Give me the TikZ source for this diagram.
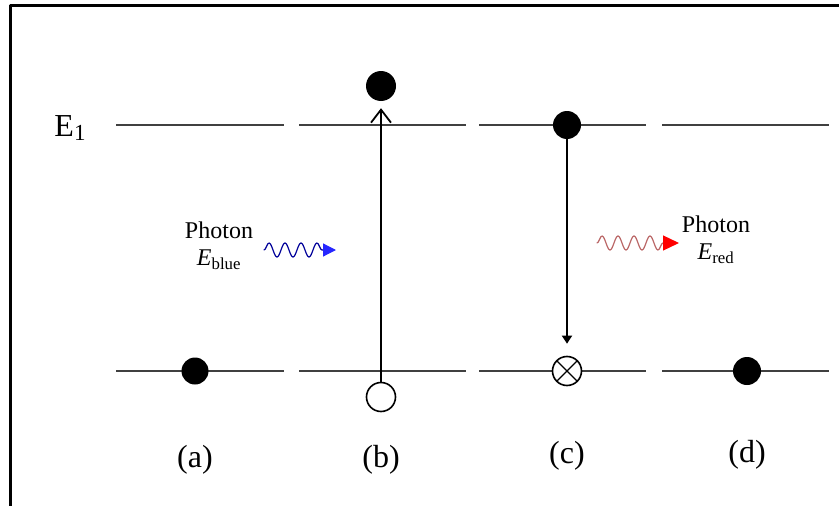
\documentclass[tikz,border=0pt]{standalone}
\usepackage{fontspec}
\setmainfont{Liberation Serif}
\usetikzlibrary{arrows.meta,decorations.pathmorphing,positioning}

\begin{document}
\begin{tikzpicture}[x=1pt,y=-1pt,line join=round,line cap=round,
	level/.style={line width=1.5pt,black!75,line cap=butt},
	electron/.style={circle,fill=black,minimum size=28pt,inner sep=0pt},
	hole/.style={circle,draw=black,line width=1.6pt,fill=white,minimum size=29pt,inner sep=0pt},
	crossed/.style={hole,path picture={
		\draw[line width=1.2pt] ([shift={(-10pt,-10pt)}]path picture bounding box.center) -- ([shift={(10pt,10pt)}]path picture bounding box.center);
		\draw[line width=1.2pt] ([shift={(-10pt,10pt)}]path picture bounding box.center) -- ([shift={(10pt,-10pt)}]path picture bounding box.center);}},
	case/.style={font=\fontsize{32}{34}\selectfont},
	photon/.style={align=center,font=\fontsize{24}{27}\selectfont,inner sep=0pt},
	wave/.style={decorate,decoration={snake,amplitude=7pt,segment length=16pt,post length=12pt},line width=1.2pt}]
	\useasboundingbox (0,0) rectangle (839,506);

	% Rahmen
	\draw[line width=3pt] (10,560) -- (10,5) -- (900,5);

	% Niveaus E1 und Grundzustand
	\foreach \xa/\xb in {116/284,299/466,479/646,662/829}{
		\draw[level] (\xa,125) -- (\xb,125);
		\draw[level] (\xa,371) -- (\xb,371);
	}
	\node[font=\fontsize{32}{34}\selectfont] (E1) at (70,128) {E\raisebox{-4pt}{\fontsize{23}{23}\selectfont 1}};

	% (a)
	\node[electron,minimum size=27pt] (ea) at (195,371) {};
	\node[case] (la) at (195,460) {(a)};

	% (b) Absorption
	\node[electron,minimum size=30pt] (eb) at (381,86) {};
	\node[hole] (hb) at (381,397) {};
	\draw[line width=1.8pt,-{Straight Barb[length=13pt,width=20pt,line width=1.8pt]}] (hb.north) -- ([yshift=-7pt]eb.south);
	\node[case] (lb) at (381,460) {(b)};

	% (c) Emission
	\node[electron,minimum size=28pt] (ec) at (567,125) {};
	\node[crossed] (xc) at (567,371) {};
	\draw[line width=1.8pt,-{Triangle[length=8pt,width=10pt]},shorten >=12pt] (ec.south) -- (xc.north);
	\node[case] (lc) at (567,456) {(c)};

	% (d)
	\node[electron,minimum size=28pt] (ed) at (747,371) {};
	\node[case] (ld) at (747,455) {(d)};

	% Photonen
	\node[photon] (pb) at (219,246) {Photon\\\textit{E}\textsubscript{blue}};
	\coordinate (wb0) at (264,250);
	\coordinate (wb1) at (336,250);
	\draw[wave,blue!60!black,-{Triangle[length=13pt,width=13pt,color=blue!85]}] (wb0) -- (wb1);

	\coordinate (wr0) at (597,243);
	\coordinate (wr1) at (679,243);
	\draw[wave,red!55!black!60!white,-{Triangle[length=16pt,width=15pt,color=red]}] (wr0) -- (wr1);
	\node[photon] (pr) at (716,240) {Photon\\\textit{E}\textsubscript{red}};
\end{tikzpicture}
\end{document}
